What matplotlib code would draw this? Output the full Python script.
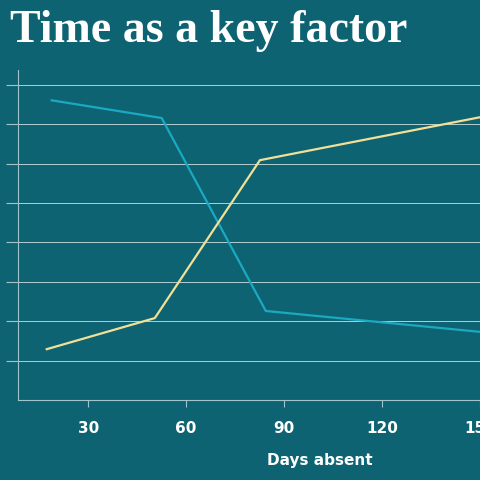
import matplotlib
matplotlib.use("Agg")
import matplotlib.pyplot as plt

days_cyan = [18.8, 52.5, 84.4, 150.0]
vals_cyan = [76.1, 71.6, 22.6, 17.3]
days_yel = [17.3, 50.4, 82.6, 150.0]
vals_yel = [12.9, 20.8, 60.9, 71.8]
xticks = [30, 60, 90, 120, 150]
yticks = [10, 20, 30, 40, 50, 60, 70, 80]

bg = "#0e6373"
fig = plt.figure(figsize=(4.8, 4.8), dpi=100, facecolor=bg)
ax = fig.add_axes([0.0375, 0.1667, 0.9625, 0.6875], facecolor=bg)
ax.set_xlim(8.5, 149)
ax.set_ylim(0, 83.8)
ax.plot(days_cyan, vals_cyan, color="#1ba9c2", lw=1.6, clip_on=True)
ax.plot(days_yel, vals_yel, color="#f2e096", lw=1.6, clip_on=True)
ax.set_yticks(yticks)
ax.set_yticklabels([])
ax.set_xticks(xticks)
ax.set_xticklabels([str(t) for t in xticks], color="white", fontsize=11, fontweight="bold")
ax.grid(axis="y", color="white", lw=0.6, alpha=0.8)
for s in ["top", "right"]:
    ax.spines[s].set_visible(False)
ax.spines["left"].set_color("#9fc4cc")
ax.spines["bottom"].set_color("#9fc4cc")
ax.tick_params(axis="y", length=9, color="#9fc4cc", width=0.8)
ax.tick_params(axis="x", length=5, color="#9fc4cc", width=0.8, pad=10)
fig.text(0.02, 0.935, "Time as a key factor", color="white", fontsize=33,
         fontweight="bold", family="Liberation Serif", va="center", ha="left")
fig.text(320/480, 1-461/480, "Days absent", color="white", fontsize=11,
         fontweight="bold", ha="center", va="center")
fig.savefig("out.png", dpi=100, facecolor=bg)
